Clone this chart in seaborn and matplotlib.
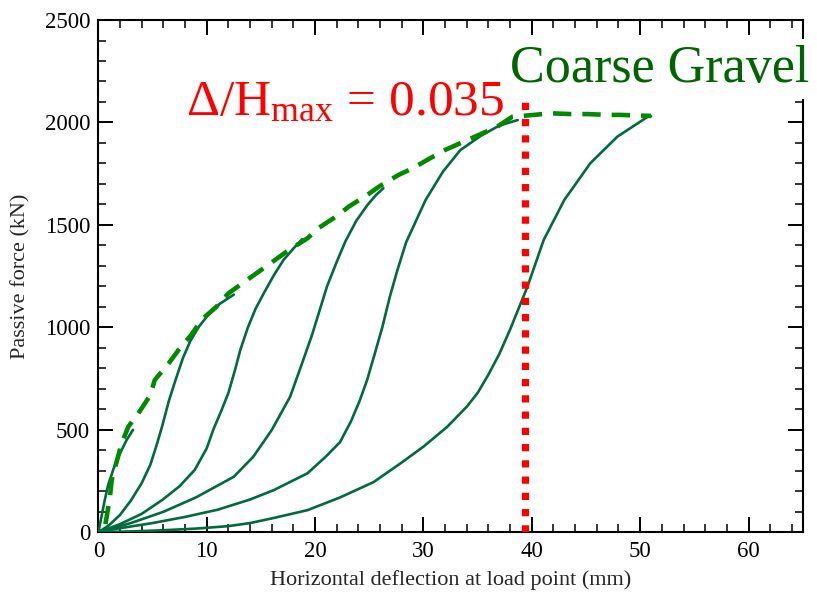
import matplotlib
matplotlib.use("Agg")
import matplotlib.pyplot as plt
from matplotlib.ticker import MultipleLocator
import seaborn as sns
import pandas as pd

# ---- data ----
c1_x = [0, 0.3, 0.6, 0.9, 1.4, 2.0, 2.6, 3.2]
c1_y = [0, 80, 160, 230, 310, 385, 450, 500]
c2_x = [0, 1.0, 2.0, 3.0, 4.0, 4.8, 5.4, 5.9, 6.5, 7.1, 7.8, 8.5, 9.3, 10.2, 11.2, 12.5]
c2_y = [0, 35, 85, 155, 240, 330, 430, 520, 640, 740, 850, 935, 1005, 1065, 1115, 1160]
c3_x = [0, 2.0, 4.0, 5.9, 7.5, 8.9, 10.0, 10.6, 11.4, 12.0, 12.6, 13.1, 13.8, 14.5, 15.3, 16.2, 17.1, 18.0, 18.8]
c3_y = [0, 40, 90, 158, 225, 305, 410, 500, 600, 680, 790, 890, 1000, 1090, 1170, 1255, 1330, 1385, 1430]
c4_x = [0, 3.0, 6.0, 9.0, 12.5, 14.3, 16.0, 17.7, 18.8, 19.7, 21.1, 22.0, 22.8, 23.8, 24.8, 25.6, 26.3]
c4_y = [0, 45, 100, 170, 271, 369, 499, 662, 825, 960, 1200, 1320, 1420, 1520, 1595, 1645, 1679]
c5_x = [0, 2.0, 5.0, 8.0, 11.0, 14.0, 16.2, 19.3, 21.0, 22.3, 23.3, 24.1, 24.8, 25.5, 26.2, 26.9, 27.6, 28.4,
        30.2, 31.8, 33.4, 35.3, 37.0, 38.7]
c5_y = [0, 20, 45, 75, 110, 160, 206, 288, 370, 440, 540, 640, 743, 870, 1000, 1150, 1280, 1415,
        1622, 1760, 1865, 1935, 1985, 2012]
c6_x = [0, 3, 6, 9, 12, 14, 16.2, 19.3, 22.3, 25.4, 27.9, 30.0, 32.2, 34.0, 35.0, 36.0, 37.0, 38.0,
        39.6, 41.1, 43.0, 45.4, 47.9, 50.7, 51.0]
c6_y = [0, 4, 10, 18, 30, 45, 70, 108, 170, 245, 337, 418, 515, 613, 680, 770, 870, 990,
        1199, 1427, 1622, 1801, 1931, 2028, 2030]

bb_x = [0.65, 0.77, 1.07, 1.23, 1.69, 2.15, 2.76, 3.7, 4.8, 5.2, 6.5, 7.4, 8.6, 9.5, 10.9, 12.0, 13.5,
        14.8, 16.3, 17.6, 19.3, 20.3, 21.9, 23.1, 24.8, 25.9, 27.7, 29.0, 30.6, 32.0, 33.7, 35.1, 36.8,
        38.2, 40.2, 41.7, 43.6, 45.1, 47.0, 48.2, 51.0]
bb_y = [40, 76, 174, 255, 345, 434, 515, 581, 670, 743, 825, 890, 965, 1036, 1101, 1166, 1223,
        1272, 1329, 1378, 1435, 1484, 1540, 1589, 1646, 1687, 1744, 1776, 1825, 1866, 1906, 1939, 1979,
        2028, 2037, 2045, 2041, 2041, 2037, 2037, 2032]

limit_x = [39.4, 39.4]
limit_y = [0, 2100]

x_label = "Horizontal deflection at load point (mm)"
y_label = "Passive force (kN)"
ratio_text = r"$\Delta/\mathrm{H}_{\mathrm{max}}$ = 0.035"
soil_text = "Coarse Gravel"

# ---- styling ----
sns.set_theme(style="ticks")
plt.rcParams["font.family"] = ["Liberation Serif", "DejaVu Serif"]
plt.rcParams["mathtext.fontset"] = "custom"
plt.rcParams["mathtext.rm"] = "Liberation Serif"
plt.rcParams["mathtext.it"] = "Liberation Serif:italic"

fig = plt.figure(figsize=(8.17, 5.96), dpi=100)
ax = fig.add_axes([0.1204, 0.1069, 0.8621, 0.8595])

curves = [(c1_x, c1_y), (c2_x, c2_y), (c3_x, c3_y), (c4_x, c4_y), (c5_x, c5_y), (c6_x, c6_y)]
frames = []
for i, (xs, ys) in enumerate(curves):
    frames.append(pd.DataFrame({"x": xs, "y": ys, "cycle": i}))
df = pd.concat(frames, ignore_index=True)

for i, g in df.groupby("cycle"):
    sns.lineplot(data=g, x="x", y="y", sort=False, estimator=None, ax=ax,
                 color="#006B3C", linewidth=1.9, zorder=3)
    ax.lines[-1].set_solid_joinstyle("round")

bb = pd.DataFrame({"x": bb_x, "y": bb_y})
sns.lineplot(data=bb, x="x", y="y", sort=False, estimator=None, ax=ax,
             color="#008A00", linewidth=3.3, zorder=4)
ax.lines[-1].set_dashes((4, 2.4))
ax.lines[-1].set_dash_capstyle("butt")

lim = pd.DataFrame({"x": limit_x, "y": limit_y})
sns.lineplot(data=lim, x="x", y="y", sort=False, estimator=None, ax=ax,
             color="#FF0000", linewidth=5.2, zorder=5)
ax.lines[-1].set_dashes((1, 1.25))
ax.lines[-1].set_dash_capstyle("butt")

ax.set_xlim(0, 65)
ax.set_ylim(0, 2500)
ax.xaxis.set_major_locator(MultipleLocator(10))
ax.xaxis.set_minor_locator(MultipleLocator(2))
ax.yaxis.set_major_locator(MultipleLocator(500))
ax.yaxis.set_minor_locator(MultipleLocator(100))
ax.tick_params(which="both", direction="in", top=True, right=True, colors="black")
ax.tick_params(which="major", length=10.5, width=1.4, labelsize=16.5, pad=6)
ax.tick_params(which="minor", length=5.8, width=1.1)
for s in ax.spines.values():
    s.set_linewidth(1.5)
    s.set_color("black")

ax.set_xlabel(x_label, fontsize=16, labelpad=6)
ax.set_ylabel(y_label, fontsize=16, labelpad=10)

ax.text(8.1, 2037, ratio_text, color="#FF0000", fontsize=37, ha="left", va="baseline", zorder=6)
ax.text(38.0, 2198, soil_text, color="#006400", fontsize=37.5, ha="left", va="baseline",
        zorder=10, clip_on=False,
        bbox=dict(facecolor="white", edgecolor="none", pad=4))

fig.savefig("out.png", dpi=100)
